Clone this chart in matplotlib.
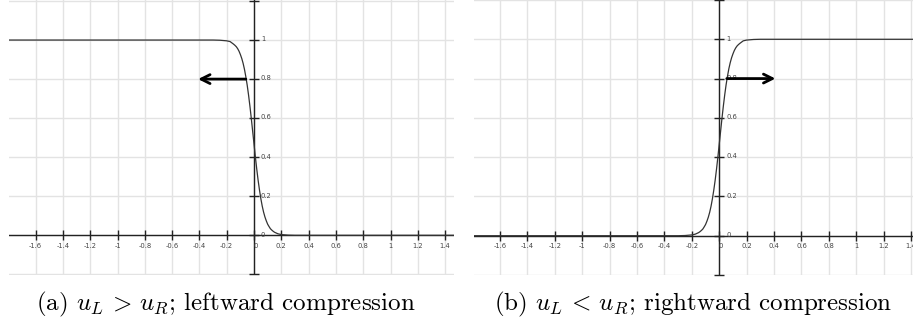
import matplotlib
matplotlib.use("Agg")
import matplotlib.pyplot as plt

plt.rcParams['mathtext.fontset'] = 'cm'

# ---- data ----
x_vals = [-1.8, -0.3, -0.25, -0.2, -0.175,
          -0.15, -0.14, -0.13, -0.12, -0.11, -0.10, -0.09, -0.08, -0.07, -0.06,
          -0.05, -0.04, -0.03, -0.02, -0.01, 0.0, 0.01, 0.02, 0.03, 0.04,
          0.05, 0.06, 0.07, 0.08, 0.09, 0.10, 0.11, 0.12, 0.13, 0.14, 0.15,
          0.175, 0.2, 0.25, 0.3, 1.5]
u_left = [1.0, 1.0, 0.999, 0.996, 0.992,
          0.979, 0.973, 0.966, 0.956, 0.943, 0.926, 0.906, 0.881, 0.850, 0.812,
          0.769, 0.718, 0.661, 0.599, 0.533, 0.467, 0.401, 0.339, 0.282, 0.232,
          0.188, 0.150, 0.119, 0.094, 0.074, 0.057, 0.045, 0.034, 0.027, 0.021, 0.016,
          0.008, 0.004, 0.001, 0.0, 0.0]
u_right = [0.0, 0.0, 0.001, 0.004, 0.008,
           0.016, 0.021, 0.027, 0.034, 0.045, 0.057, 0.074, 0.094, 0.119, 0.150,
           0.188, 0.232, 0.282, 0.339, 0.401, 0.467, 0.533, 0.599, 0.661, 0.718,
           0.769, 0.812, 0.850, 0.881, 0.906, 0.926, 0.943, 0.956, 0.966, 0.973, 0.979,
           0.992, 0.996, 0.999, 1.0, 1.0]

arrow_y = 0.8
left_arrow = (-0.06, -0.41)   # (start, end)
right_arrow = (0.055, 0.41)

x_ticks = [-1.6, -1.4, -1.2, -1.0, -0.8, -0.6, -0.4, -0.2, 0.0, 0.2, 0.4, 0.6, 0.8, 1.0, 1.2, 1.4]
x_tick_labels = ["-1.6", "-1.4", "-1.2", "-1", "-0.8", "-0.6", "-0.4", "-0.2", "0",
                 "0.2", "0.4", "0.6", "0.8", "1", "1.2", "1.4"]
y_ticks = [-0.2, 0.0, 0.2, 0.4, 0.6, 0.8, 1.0, 1.2]
y_tick_labels = ["", "0", "0.2", "0.4", "0.6", "0.8", "1", ""]

captions = [r"(a) $u_L\,>\,u_R$; leftward compression",
            r"(b) $u_L\,<\,u_R$; rightward compression"]

W, H = 913, 326
fig = plt.figure(figsize=(W / 100, H / 100), dpi=100)


def make_panel(rect_px, xlim, ylim, u, arrow):
    l, t, r, b = rect_px
    ax = fig.add_axes([l / W, 1 - b / H, (r - l) / W, (b - t) / H])
    ax.set_xlim(*xlim)
    ax.set_ylim(*ylim)
    for s in ax.spines.values():
        s.set_visible(False)
    ax.set_xticks(x_ticks)
    ax.set_yticks(y_ticks)
    ax.tick_params(length=0, labelbottom=False, labelleft=False)
    ax.grid(True, color='#e3e3e3', lw=1.0)
    ax.set_axisbelow(True)
    # axes lines
    ax.axhline(0, color='#222222', lw=1.0, zorder=2)
    ax.axvline(0, color='#222222', lw=1.0, zorder=2)
    # tick marks
    ax.plot(x_ticks, [0] * len(x_ticks), ls='none', marker='|', ms=7, mew=1.0,
            color='#222222', zorder=2, clip_on=False)
    ax.plot([0] * len(y_ticks), y_ticks, ls='none', marker='_', ms=7, mew=1.0,
            color='#222222', zorder=2, clip_on=False)
    for xt, lab in zip(x_ticks, x_tick_labels):
        ax.annotate(lab, (xt, 0), xytext=(0 if lab != "0" else 1, -7.5), textcoords='offset points',
                    ha='center', va='center', fontsize=4.9, color='#444444')
    for yt, lab in zip(y_ticks, y_tick_labels):
        if lab:
            ax.annotate(lab, (0, yt), xytext=(5, 0.5), textcoords='offset points',
                        ha='left', va='center', fontsize=4.9, color='#444444')
    # curve
    ax.plot(x_vals, u, color='#333333', lw=0.9, zorder=3)
    # arrow
    ax.annotate('', xy=(arrow[1], arrow_y), xytext=(arrow[0], arrow_y),
                arrowprops=dict(arrowstyle='->', lw=2.0, color='black',
                                mutation_scale=16, shrinkA=0, shrinkB=0), zorder=4)
    return ax


make_panel((9, 0, 454, 275), (-1.795, 1.465), (-0.203, 1.205), u_left, left_arrow)
make_panel((474, 0, 913, 275), (-1.79, 1.414), (-0.2, 1.195), u_right, right_arrow)

fig.text(226 / W, 1 - 304 / H, captions[0], ha='center', va='center',
         fontsize=18, family='cmr10')
fig.text(693 / W, 1 - 304 / H, captions[1], ha='center', va='center',
         fontsize=18, family='cmr10')

fig.savefig("out.png", dpi=100)
